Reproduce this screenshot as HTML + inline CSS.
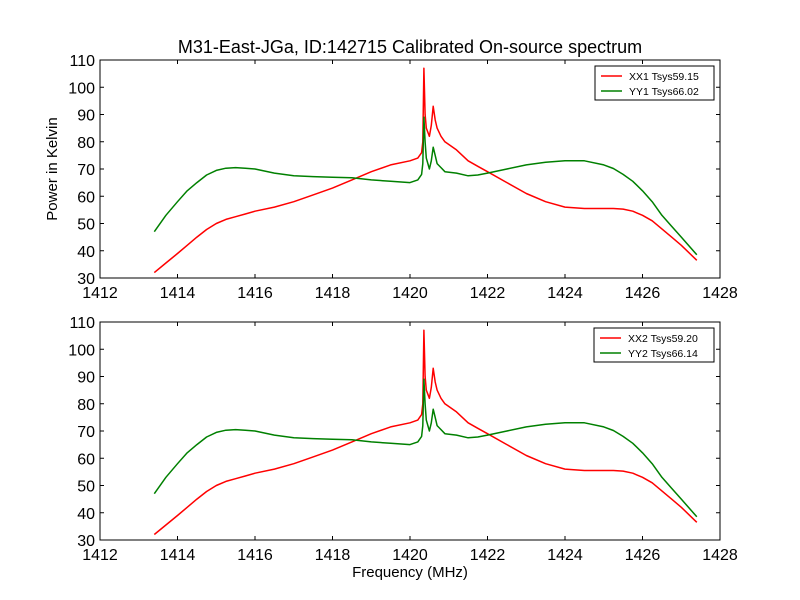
<!DOCTYPE html>
<html><head><meta charset="utf-8"><style>
body{margin:0;background:#fff}
svg{display:block;font-family:"Liberation Sans","DejaVu Sans",sans-serif}
</style></head><body>
<svg id="chart" width="800" height="600" viewBox="0 0 800 600">
<rect x="0" y="0" width="800" height="600" fill="#fff"/>
<text x="410" y="53" font-size="18" text-anchor="middle">M31-East-JGa, ID:142715 Calibrated On-source spectrum</text>
<text x="57" y="169" font-size="15" text-anchor="middle" transform="rotate(-90 57 169)">Power in Kelvin</text>
<text x="410" y="577" font-size="15" text-anchor="middle">Frequency (MHz)</text>
</svg>
<script>
const freqs = [1413.4,1413.7,1414,1414.25,1414.5,1414.75,1415,1415.25,1415.5,1415.75,1416,1416.5,1417,1417.5,1418,1418.5,1419,1419.5,1420,1420.2,1420.3,1420.33,1420.36,1420.39,1420.42,1420.5,1420.55,1420.6,1420.65,1420.7,1420.8,1420.9,1421.2,1421.5,1421.75,1422,1422.5,1423,1423.5,1424,1424.5,1425,1425.25,1425.5,1425.75,1426,1426.25,1426.5,1426.75,1427,1427.4];
const xx1 = [32,35.5,39,42,45,47.8,50,51.5,52.5,53.5,54.5,56,58,60.5,63,66,69,71.5,73,74,76,80,107,90,85,82,86,93,88,85,82,80,77,73,71,69,65,61,58,56,55.5,55.5,55.5,55.3,54.5,53,51,48,45,42,36.5];
const yy1 = [47,53,58,62,65,67.8,69.5,70.3,70.5,70.3,70,68.5,67.5,67.2,67,66.8,66,65.5,65,66,68,72,89,80,74,70,73,78,75,72,70.5,69,68.5,67.5,67.8,68.5,70,71.5,72.5,73,73,71.5,70.2,68,65.5,62,58,53,49,45,38.5];
const xx2 = [32,35.5,39,42,45,47.8,50,51.5,52.5,53.5,54.5,56,58,60.5,63,66,69,71.5,73,74,76,80,107,90,85,82,86,93,88,85,82,80,77,73,71,69,65,61,58,56,55.5,55.5,55.5,55.3,54.5,53,51,48,45,42,36.5];
const yy2 = [47,53,58,62,65,67.8,69.5,70.3,70.5,70.3,70,68.5,67.5,67.2,67,66.8,66,65.5,65,66,68,72,89,80,74,70,73,78,75,72,70.5,69,68.5,67.5,67.8,68.5,70,71.5,72.5,73,73,71.5,70.2,68,65.5,62,58,53,49,45,38.5];
const xTicks = [1412,1414,1416,1418,1420,1422,1424,1426,1428];
const yTicks = [30,40,50,60,70,80,90,100,110];
const legend1 = ["XX1 Tsys59.15","YY1 Tsys66.02"];
const legend2 = ["XX2 Tsys59.20","YY2 Tsys66.14"];

const svg = document.getElementById('chart');
const NS = 'http://www.w3.org/2000/svg';
function mk(tag, attrs, parent){const e=document.createElementNS(NS,tag);for(const k in attrs)e.setAttribute(k,attrs[k]);(parent||svg).appendChild(e);return e;}
const X0=100,X1=720;
function xs(v){return X0+(v-1412)/(1428-1412)*(X1-X0);}
function panel(top,bot,red,green,leg,name,lx,lw){
  const ys=v=>bot-(v-30)/(110-30)*(bot-top);
  const g=mk('g',{});
  
  
  [[red,'#ff0000',leg[0]],[green,'#008000',leg[1]]].forEach(([arr,col,lab])=>{
    const p=mk('polyline',{points:freqs.map((f,i)=>xs(f).toFixed(1)+','+ys(arr[i]).toFixed(1)).join(' '),fill:'none',stroke:col,'stroke-width':1.5,'stroke-linejoin':'round'},g);
    
    
  });
  const fr=mk('rect',{x:X0,y:top,width:X1-X0,height:bot-top,fill:'none',stroke:'#000'},g);
  
  
  xTicks.forEach(t=>{
    const x=xs(t);
    mk('line',{x1:x,y1:bot,x2:x,y2:bot-4,stroke:'#000'},g);
    mk('line',{x1:x,y1:top,x2:x,y2:top+4,stroke:'#000'},g);
    const tx=mk('text',{x:x,y:bot+20,'font-size':16,'text-anchor':'middle'},g);tx.textContent=t;
    
    
  });
  yTicks.forEach(t=>{
    const y=ys(t);
    mk('line',{x1:X0,y1:y,x2:X0+4,y2:y,stroke:'#000'},g);
    mk('line',{x1:X1,y1:y,x2:X1-4,y2:y,stroke:'#000'},g);
    const tx=mk('text',{x:X0-5,y:y+6,'font-size':16,'text-anchor':'end'},g);tx.textContent=t;
    
    
  });
  const lg=mk('g',{},g);
  
  
  mk('rect',{x:lx,y:top+6,width:lw,height:34,fill:'#fff',stroke:'#000'},lg);
  [['#ff0000',leg[0]],['#008000',leg[1]]].forEach(([c,l],i)=>{
    const yy=top+16+i*15;
    mk('line',{x1:lx+6,y1:yy,x2:lx+27,y2:yy,stroke:c,'stroke-width':1.5},lg);
    const t=mk('text',{x:lx+34,y:yy+4,'font-size':10.5},lg);t.textContent=l;
    
    
  });
}
panel(60,278,xx1,yy1,legend1,'top-panel',595,119);
panel(322,540,xx2,yy2,legend2,'bottom-panel',594,120);
</script>
</body></html>
